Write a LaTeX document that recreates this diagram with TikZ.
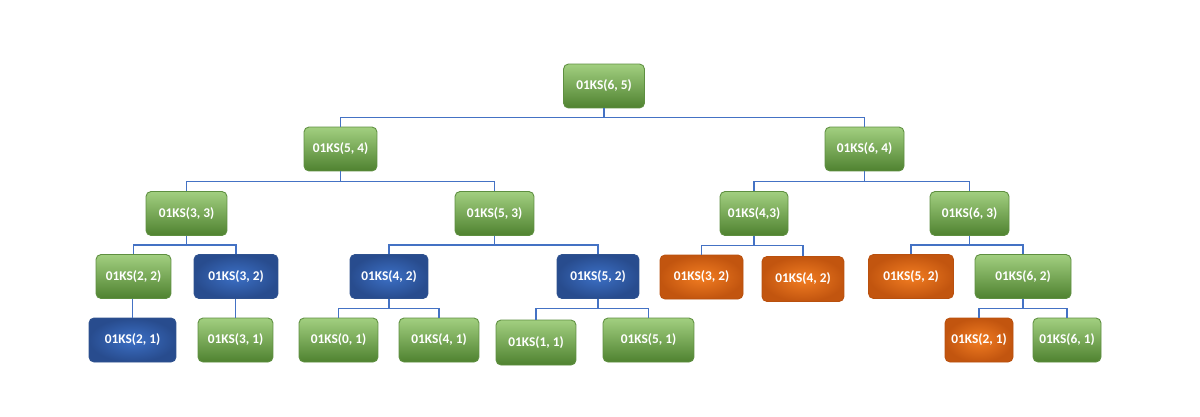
\documentclass[tikz,border=0pt]{standalone}
\usepackage{fontspec}
\setmainfont{Carlito}
\usepackage{xcolor}
\usepackage{tikz}
\usetikzlibrary{calc}

\definecolor{grtop}{HTML}{A2CF80}
\definecolor{grbot}{HTML}{4F8230}
\definecolor{grline}{HTML}{5E8F40}
\definecolor{blin}{HTML}{3C70C6}
\definecolor{blout}{HTML}{284C8E}
\definecolor{blline}{HTML}{2F528F}
\definecolor{orin}{HTML}{F27D22}
\definecolor{orout}{HTML}{C2550F}
\definecolor{orline}{HTML}{B9500E}
\definecolor{linkblue}{HTML}{4472C4}

\begin{document}
\begin{tikzpicture}[x=0.02cm,y=-0.02cm,
  box/.style={rounded corners=1mm,inner sep=0pt,minimum height=0.88cm,
    text=white,font=\fontsize{7.6}{9}\selectfont\bfseries,line width=0.5pt},
  greenbox/.style={box,draw=grline,top color=grtop,bottom color=grbot},
  bluebox/.style={box,draw=blline,shading=radial,inner color=blin,outer color=blout},
  orangebox/.style={box,draw=orline,shading=radial,inner color=orin,outer color=orout},
  bw/.style={minimum width=#1*0.2mm},
  link/.style={draw=linkblue,line width=0.7pt}]
  \useasboundingbox (0,0) rectangle (1200,416);
  % livello 0 e 1
  \node[greenbox,bw=81] (n65) at (604,86) {01KS(6, 5)};
  \node[greenbox,bw=73] (n54) at (340.5,149) {01KS(5, 4)};
  \node[greenbox,bw=79] (n64) at (864.5,149) {01KS(6, 4)};
  % livello 2
  \node[greenbox,bw=81] (n33) at (186.5,213.5) {01KS(3, 3)};
  \node[greenbox,bw=79] (n53) at (494.5,213.5) {01KS(5, 3)};
  \node[greenbox,bw=68] (n43) at (754,213.5) {01KS(4,3)};
  \node[greenbox,bw=79] (n63) at (969.5,213.5) {01KS(6, 3)};
  % livello 3
  \node[greenbox,bw=75] (n22) at (133.5,276.5) {01KS(2, 2)};
  \node[bluebox,bw=84] (n32) at (236,276.5) {01KS(3, 2)};
  \node[bluebox,bw=78] (n42) at (389,276.5) {01KS(4, 2)};
  \node[bluebox,bw=82] (n52) at (598,276.5) {01KS(5, 2)};
  \node[orangebox,bw=83] (m32) at (701.5,277) {01KS(3, 2)};
  \node[orangebox,bw=82,minimum height=0.9cm] (m42) at (803,279) {01KS(4, 2)};
  \node[orangebox,bw=85] (m52) at (911,276.5) {01KS(5, 2)};
  \node[greenbox,bw=96] (n62) at (1023,276.5) {01KS(6, 2)};
  % livello 4
  \node[bluebox,bw=87] (n21) at (132.5,340) {01KS(2, 1)};
  \node[greenbox,bw=75] (n31) at (235.5,340) {01KS(3, 1)};
  \node[greenbox,bw=79] (n01) at (338.5,340) {01KS(0, 1)};
  \node[greenbox,bw=80] (n41) at (439,340) {01KS(4, 1)};
  \node[greenbox,bw=80,minimum height=0.9cm] (n11) at (536,342.5) {01KS(1, 1)};
  \node[greenbox,bw=91] (n51) at (648.5,340) {01KS(5, 1)};
  \node[orangebox,bw=68] (m21) at (979,340) {01KS(2, 1)};
  \node[greenbox,bw=68] (n61) at (1067,340) {01KS(6, 1)};
  % collegamenti
  \foreach \p/\c/\f in {n65/n54/n54,n65/n64/n54,n54/n33/n33,n54/n53/n33,
      n64/n43/n43,n64/n63/n43,n33/n22/n22,n33/n32/n22,n53/n42/n42,n53/n52/n42,
      n43/m32/m32,n43/m42/m32,n63/m52/m52,n63/n62/m52,n42/n01/n01,n42/n41/n01,
      n52/n11/n51,n52/n51/n51,n62/m21/m21,n62/n61/m21}
    \draw[link] (\p.south) |- ($(\p.south)!0.5!(\p.south -| \f.north)!0.5!(\f.north)$) -| (\c.north);
  \draw[link] (n22.south -| n21.north) -- (n21.north);
  \draw[link] (n32.south -| n31.north) -- (n31.north);
\end{tikzpicture}
\end{document}
